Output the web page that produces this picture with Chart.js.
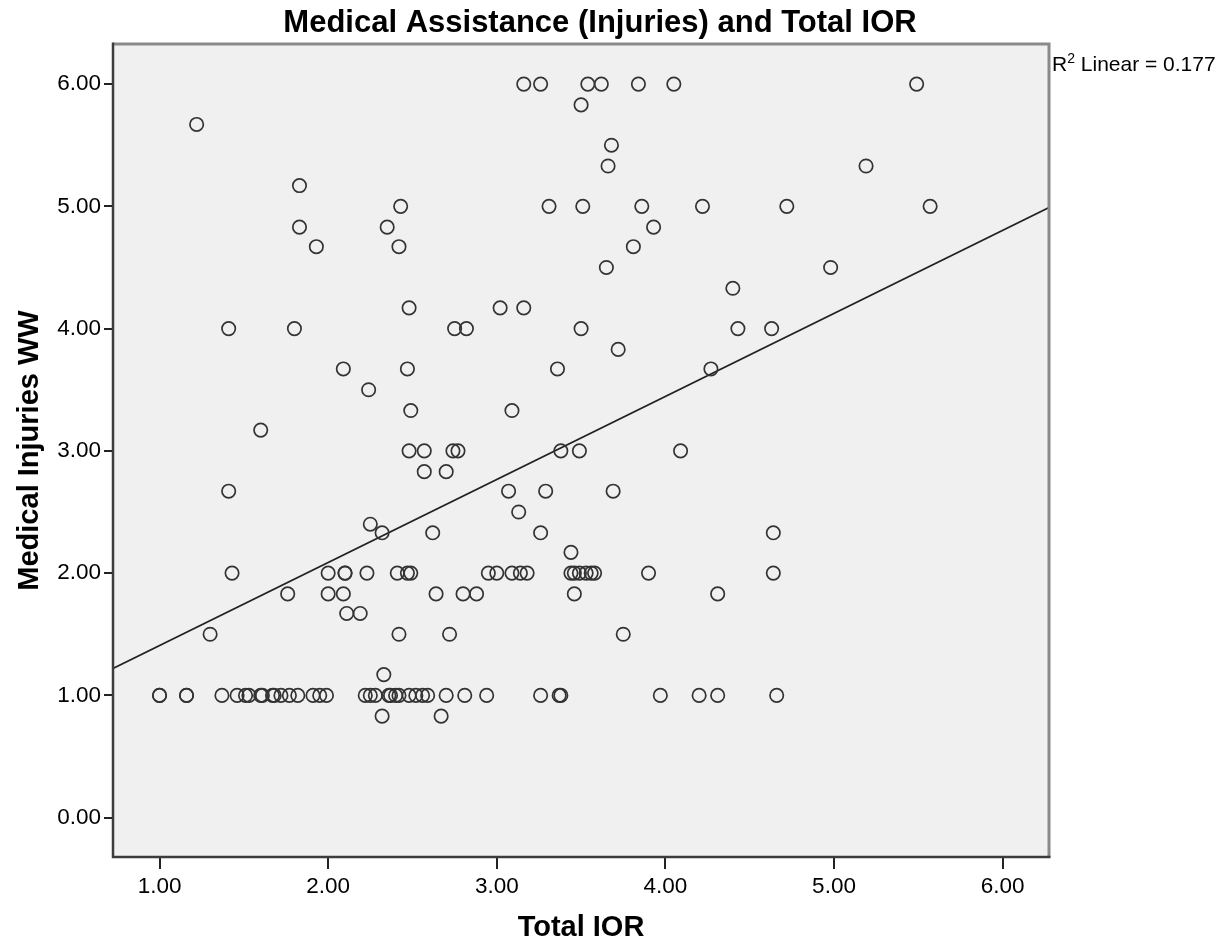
<!DOCTYPE html>
<html>
<head>
<meta charset="utf-8">
<script src="https://cdn.jsdelivr.net/npm/chart.js@4.4.1/dist/chart.umd.min.js"></script>
<style>
  html, body { margin: 0; padding: 0; background: #fff; }
  #wrap { width: 1232px; height: 951px; }
</style>
</head>
<body>
<div id="wrap"><canvas id="myChart" width="1232" height="951"></canvas></div>
<script>
const chartTitle = "Medical Assistance (Injuries) and Total IOR";
const xTitle = "Total IOR";
const yTitle = "Medical Injuries WW";
const fitLabel = " Linear = 0.177";

const xTicks = [1, 2, 3, 4, 5, 6];
const xTickLabels = ["1.00", "2.00", "3.00", "4.00", "5.00", "6.00"];
const yTicks = [0, 1, 2, 3, 4, 5, 6];
const yTickLabels = ["0.00", "1.00", "2.00", "3.00", "4.00", "5.00", "6.00"];

// Total IOR (x) and Medical Injuries WW (y), one entry per respondent
const totalIOR = [
  3.16, 3.26, 3.54, 3.62, 3.84, 4.05, 5.49,
  3.50, 1.22, 3.68, 3.66, 5.19, 1.83,
  2.43, 3.31, 3.51, 3.86, 4.22, 4.72, 5.57,
  1.83, 2.35, 3.93, 1.93, 2.42, 3.81, 3.65, 4.98, 4.40,
  2.48, 3.02, 3.16,
  1.41, 1.80, 2.75, 2.82, 3.50, 4.43, 4.63,
  3.72, 2.09, 2.47, 3.36, 4.27, 2.24, 2.49, 3.09, 1.60,
  2.48, 2.57, 2.74, 2.77, 3.38, 3.49, 4.09,
  2.57, 2.70, 1.41, 3.07, 3.29, 3.69, 3.13, 2.25,
  2.32, 2.62, 3.26, 4.64, 3.44,
  1.43, 2.00, 2.10, 2.10, 2.23, 2.41, 2.47, 2.49, 2.95, 3.00, 3.09,
  3.14, 3.18, 3.44, 3.46, 3.49, 3.53, 3.56, 3.58, 3.90, 4.64,
  1.76, 2.00, 2.09, 2.64, 2.80, 2.88, 3.46, 4.31,
  2.11, 2.19, 1.30, 2.42, 2.72, 3.75, 2.33,
  1.00, 1.00, 1.16, 1.16, 1.37, 1.46, 1.51, 1.53, 1.60, 1.61, 1.67, 1.68, 1.72,
  1.77, 1.82, 1.91, 1.95, 1.99, 2.22, 2.25, 2.28, 2.36, 2.37, 2.40, 2.42, 2.48,
  2.52, 2.56, 2.59, 2.70, 2.81, 2.94, 3.26, 3.37, 3.38, 3.97, 4.20, 4.31, 4.66,
  2.32, 2.67
];
const medicalInjuries = [
  6, 6, 6, 6, 6, 6, 6,
  5.83, 5.67, 5.5, 5.33, 5.33, 5.17,
  5, 5, 5, 5, 5, 5, 5,
  4.83, 4.83, 4.83, 4.67, 4.67, 4.67, 4.5, 4.5, 4.33,
  4.17, 4.17, 4.17,
  4, 4, 4, 4, 4, 4, 4,
  3.83, 3.67, 3.67, 3.67, 3.67, 3.5, 3.33, 3.33, 3.17,
  3, 3, 3, 3, 3, 3, 3,
  2.83, 2.83, 2.67, 2.67, 2.67, 2.67, 2.5, 2.4,
  2.33, 2.33, 2.33, 2.33, 2.17,
  2, 2, 2, 2, 2, 2, 2, 2, 2, 2, 2,
  2, 2, 2, 2, 2, 2, 2, 2, 2, 2,
  1.83, 1.83, 1.83, 1.83, 1.83, 1.83, 1.83, 1.83,
  1.67, 1.67, 1.5, 1.5, 1.5, 1.5, 1.17,
  1, 1, 1, 1, 1, 1, 1, 1, 1, 1, 1, 1, 1,
  1, 1, 1, 1, 1, 1, 1, 1, 1, 1, 1, 1, 1,
  1, 1, 1, 1, 1, 1, 1, 1, 1, 1, 1, 1, 1,
  0.83, 0.83
];

// fit line ends, read where it meets the plot frame
const fitX = [0.724, 6.275];
const fitY = [1.22, 4.99];

const xRange = [0.724, 6.275];
const yRange = [-0.322, 6.328];

const chartPlace = document.getElementById("myChart");
const fontName = "Arial, 'Liberation Sans', sans-serif";

const frameAndText = {
  id: "frameAndText",
  beforeDatasetsDraw(chart) {
    const { ctx, chartArea: a } = chart;
    ctx.save();
    ctx.fillStyle = "#f0f0f0";
    ctx.fillRect(a.left, a.top, a.right - a.left, a.bottom - a.top);
    ctx.restore();
  },
  afterDraw(chart) {
    const { ctx, chartArea: a } = chart;
    ctx.save();
    // frame: grey top/right, dark left/bottom
    ctx.lineWidth = 3;
    ctx.strokeStyle = "#8a8a8a";
    ctx.beginPath();
    ctx.moveTo(a.left, a.top);
    ctx.lineTo(a.right, a.top);
    ctx.lineTo(a.right, a.bottom);
    ctx.stroke();
    ctx.lineWidth = 2.5;
    ctx.strokeStyle = "#3c3c3c";
    ctx.beginPath();
    ctx.moveTo(a.left, a.top - 1.5);
    ctx.lineTo(a.left, a.bottom);
    ctx.lineTo(a.right + 1.5, a.bottom);
    ctx.stroke();

    // title
    ctx.fillStyle = "#000";
    ctx.textAlign = "center";
    ctx.textBaseline = "middle";
    ctx.font = "bold 31px " + fontName;
    ctx.fillText(chartTitle, 600, 23);

    // R squared note
    ctx.textAlign = "left";
    ctx.textBaseline = "alphabetic";
    let x = a.right + 3;
    const y = a.top + 27;
    ctx.font = "21px " + fontName;
    ctx.fillText("R", x, y);
    x += ctx.measureText("R").width;
    ctx.font = "14px " + fontName;
    ctx.fillText("2", x, y - 8);
    x += ctx.measureText("2").width;
    ctx.font = "21px " + fontName;
    ctx.fillText(fitLabel, x, y);
    ctx.restore();
  }
};

const points = totalIOR.map((v, i) => ({ x: v, y: medicalInjuries[i] }));
const fitPoints = fitX.map((v, i) => ({ x: v, y: fitY[i] }));

const myChart = new Chart(chartPlace, {
  type: "scatter",
  data: {
    datasets: [
      {
        label: "Medical Injuries WW",
        data: points,
        pointStyle: "circle",
        pointRadius: 6.7,
        pointBorderWidth: 1.7,
        borderColor: "#333",
        backgroundColor: "rgba(0,0,0,0)",
        order: 1
      },
      {
        label: "Linear fit",
        type: "line",
        data: fitPoints,
        borderColor: "#222",
        borderWidth: 1.6,
        pointRadius: 0,
        fill: false,
        order: 2
      }
    ]
  },
  plugins: [frameAndText],
  options: {
    responsive: false,
    animation: false,
    layout: { padding: { top: 44, right: 183, left: 0, bottom: 0 } },
    plugins: {
      legend: { display: false },
      tooltip: { enabled: false },
      title: { display: false }
    },
    scales: {
      x: {
        type: "linear",
        min: xRange[0],
        max: xRange[1],
        afterBuildTicks: (s) => { s.ticks = xTicks.map(v => ({ value: v })); },
        afterFit: (s) => { s.height = 94; },
        border: { display: false },
        grid: { drawOnChartArea: false, drawTicks: true, tickLength: 12, color: "#222", lineWidth: 2 },
        ticks: {
          color: "#000",
          padding: 4,
          maxRotation: 0,
          font: { family: fontName, size: 22.5 },
          callback: (v, i) => xTickLabels[i]
        },
        title: {
          display: true,
          text: xTitle,
          color: "#000",
          font: { family: fontName, size: 29, weight: "bold" },
          padding: { top: 0, bottom: 6 }
        }
      },
      y: {
        type: "linear",
        min: yRange[0],
        max: yRange[1],
        afterBuildTicks: (s) => { s.ticks = yTicks.map(v => ({ value: v })); },
        afterFit: (s) => { s.width = 113; },
        border: { display: false },
        grid: { drawOnChartArea: false, drawTicks: true, tickLength: 9, color: "#222", lineWidth: 2 },
        ticks: {
          color: "#000",
          padding: 3,
          font: { family: fontName, size: 22.5 },
          callback: (v, i) => yTickLabels[i]
        },
        title: {
          display: true,
          text: yTitle,
          color: "#000",
          font: { family: fontName, size: 29, weight: "bold" },
          padding: { top: 13, bottom: 0 }
        }
      }
    }
  }
});
</script>
</body>
</html>
